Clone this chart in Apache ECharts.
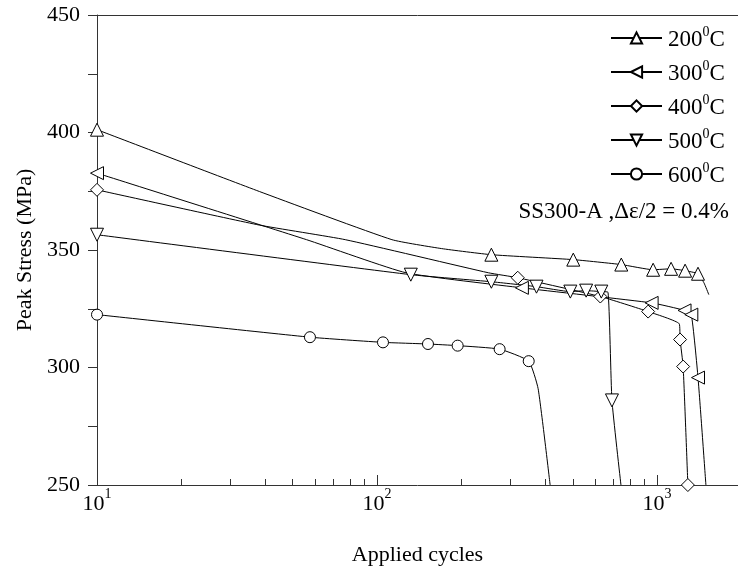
<!DOCTYPE html>
<html>
<head>
<meta charset="utf-8">
<script src="https://cdn.jsdelivr.net/npm/echarts@6/dist/echarts.min.js"></script>
<style>
html,body{margin:0;padding:0;background:#fff;}
#chart{width:738px;height:571px;}
</style>
</head>
<body>
<div id="chart"></div>
<script>
// ---- data ----
const seriesNames = ['200', '300', '400', '500', '600'];
const xMajorTicks = [10, 100, 1000];
const xMinorTicks = [20, 30, 40, 50, 60, 70, 80, 90, 200, 300, 400, 500, 600, 700, 800, 900];
const yTicks = [250, 300, 350, 400, 450];

// points that carry a marker
const marked200 = [[10, 401.2], [256, 348.0], [502, 345.9], [745, 343.8], [968, 341.6], [1122, 342.0], [1259, 341.2], [1400, 339.9]];
const curve200 = [[38, 374.9], [113, 354.4], [170, 350.6], [1472, 335.9], [1530, 331.0]];

const marked300 = [[10, 382.7], [329, 333.9], [956, 327.5], [1253, 324.3], [1325, 322.5], [1400, 295.7]];
const curve300 = [[56, 354.4], [127, 340.3], [1494, 250]];

const marked400 = [[10, 375.6], [318, 338.2], [627, 330.2], [929, 323.8], [1208, 311.9], [1239, 300.4], [1288, 250]];
const curve400 = [[38, 360.6], [77, 354.4], [250, 340.3], [1200, 318.6]];

const marked500 = [[10, 356.5], [132, 339.5], [256, 336.5], [371, 334.4], [490, 332.3], [558, 332.7], [632, 332.3], [690, 286]];
const curve500 = [[668, 332], [743, 250]];

const marked600 = [[10, 322.5], [57.6, 312.9], [105, 310.7], [152, 310.0], [194, 309.3], [274, 307.8], [348, 302.7]];
const curve600 = [[376, 291], [415, 250]];

const annotation = 'SS300-A ,\u0394\u03b5/2 = 0.4%';
// -------------------------------------

const FONT = 'Liberation Serif';
const FS = 22;
const xMin = 10, xMax = 1945;

function build(marked, curve) {
  const pts = marked.map(p => ({ p: p, m: true })).concat(curve.map(p => ({ p: p, m: false })));
  pts.sort((a, b) => a.p[0] - b.p[0]);
  return pts.map(o => o.m ? { value: o.p } : { value: o.p, symbol: 'none' });
}

const symbols = [
  { symbol: 'triangle', rotate: 0, size: 13 },
  { symbol: 'triangle', rotate: 90, size: 13 },
  { symbol: 'diamond', rotate: 0, size: 13 },
  { symbol: 'triangle', rotate: 180, size: 13 },
  { symbol: 'circle', rotate: 0, size: 11 }
];
const dataSets = [
  build(marked200, curve200),
  build(marked300, curve300),
  build(marked400, curve400),
  build(marked500, curve500),
  build(marked600, curve600)
];

const series = seriesNames.map((n, i) => ({
  name: n,
  type: 'line',
  xAxisIndex: 0,
  yAxisIndex: 0,
  data: dataSets[i],
  symbol: symbols[i].symbol,
  symbolRotate: symbols[i].rotate,
  symbolSize: symbols[i].size,
  showAllSymbol: true,
  smooth: 0.15,
  clip: true,
  lineStyle: { color: '#000', width: 1 },
  itemStyle: { color: '#fff', borderColor: '#000', borderWidth: 1 },
  emphasis: { disabled: true },
  animation: false,
  z: 3
}));

const chart = echarts.init(document.getElementById('chart'), null, { renderer: 'canvas' });
chart.setOption({
  backgroundColor: '#fff',
  animation: false,
  textStyle: { fontFamily: FONT },
  grid: { left: 97, right: 0, top: 15, bottom: 85, containLabel: false },
  title: {
    text: annotation,
    right: 4,
    top: 195,
    textStyle: { fontFamily: FONT, fontSize: FS + 1, fontWeight: 'normal', color: '#000' }
  },
  legend: {
    orient: 'vertical',
    left: 605,
    top: 20,
    itemWidth: 51,
    itemHeight: 14,
    itemGap: 8,
    data: seriesNames,
    formatter: n => '{a|' + n + '}{s|0}{a|C}',
    textStyle: {
      fontFamily: FONT, color: '#000', padding: [0, 0, 0, 1],
      rich: {
        a: { fontFamily: FONT, fontSize: FS + 1, color: '#000', lineHeight: 26, verticalAlign: 'bottom' },
        s: { fontFamily: FONT, fontSize: 14, color: '#000', lineHeight: 26, verticalAlign: 'top' }
      }
    }
  },
  xAxis: [
    {
      type: 'log', logBase: 10, min: xMin, max: xMax, position: 'bottom',
      name: 'Applied cycles', nameLocation: 'middle', nameGap: 59,
      nameTextStyle: { fontFamily: FONT, fontSize: FS, color: '#000' },
      axisLine: { show: true, lineStyle: { color: '#333', width: 1 } },
      axisTick: { show: true, inside: true, length: 10, customValues: xMajorTicks, lineStyle: { color: '#333' } },
      axisLabel: {
        show: true, margin: 2, customValues: xMajorTicks,
        formatter: v => '{b|10}{s|' + Math.round(Math.log10(v)) + '}',
        rich: {
          b: { fontFamily: FONT, fontSize: FS, color: '#000', lineHeight: 28, verticalAlign: 'bottom' },
          s: { fontFamily: FONT, fontSize: 14, color: '#000', lineHeight: 28, verticalAlign: 'top' }
        }
      },
      splitLine: { show: false },
      minorTick: { show: false }
    },
    {
      type: 'log', logBase: 10, min: xMin, max: xMax, position: 'bottom', offset: 0,
      axisLine: { show: false },
      axisTick: { show: true, inside: true, length: 6, customValues: xMinorTicks, lineStyle: { color: '#333' } },
      axisLabel: { show: false },
      splitLine: { show: false }
    },
    {
      type: 'log', logBase: 10, min: xMin, max: xMax, position: 'top', offset: 0,
      axisLine: { show: true, lineStyle: { color: '#333', width: 1 } },
      axisTick: { show: false },
      axisLabel: { show: false },
      splitLine: { show: false }
    }
  ],
  yAxis: [{
    type: 'value', min: yTicks[0], max: yTicks[yTicks.length - 1], interval: 50,
    name: 'Peak Stress (MPa)', nameLocation: 'middle', nameGap: 57, nameRotate: 90,
    nameTextStyle: { fontFamily: FONT, fontSize: FS, color: '#000' },
    axisLine: { show: true, lineStyle: { color: '#333', width: 1 } },
    axisTick: { show: true, inside: false, length: 9, lineStyle: { color: '#333' } },
    minorTick: { show: true, splitNumber: 2, length: 9, lineStyle: { color: '#333' } },
    axisLabel: { margin: 17, fontFamily: FONT, fontSize: FS, color: '#000' },
    splitLine: { show: false }
  }],
  series: series
});
</script>
</body>
</html>
